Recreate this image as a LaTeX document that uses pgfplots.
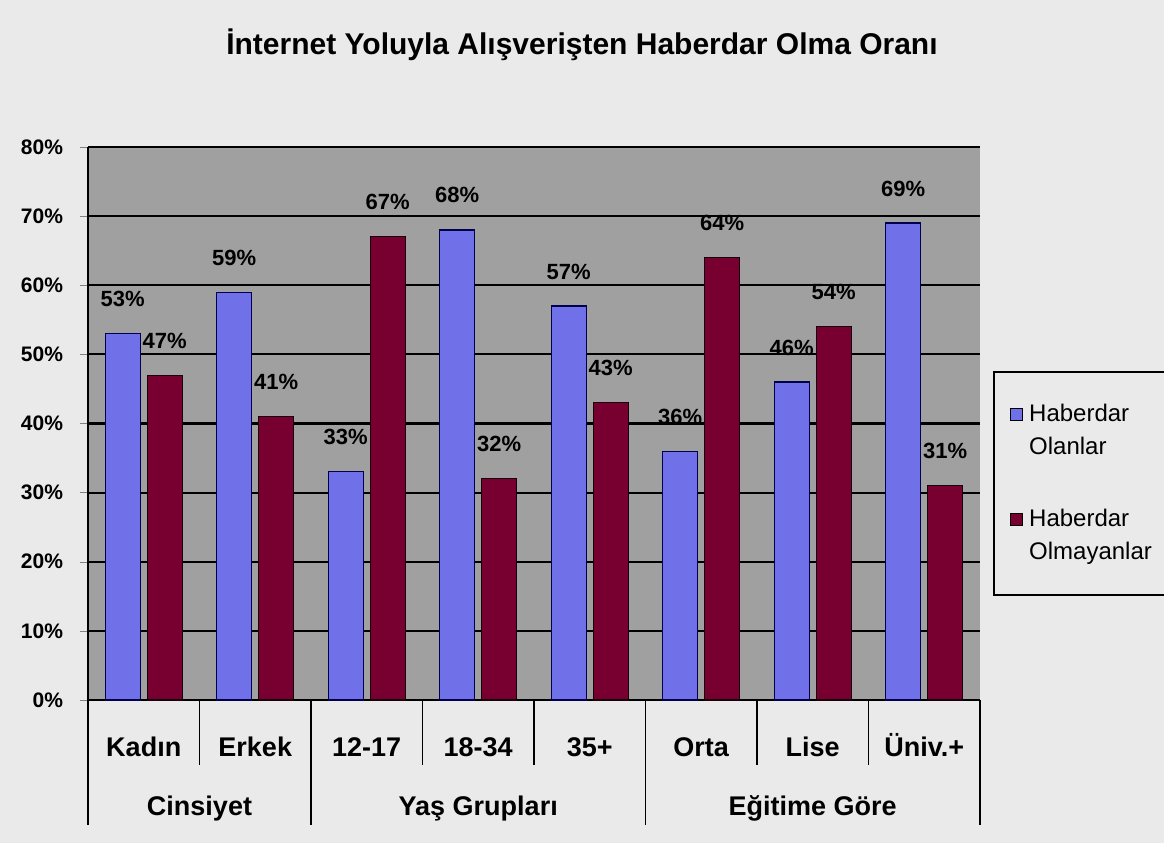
\documentclass[border=0pt]{standalone}
\usepackage{pgfplots}
\pgfplotsset{compat=1.18}
\usepackage{fontspec}
\setmainfont{Liberation Sans}
\definecolor{bg}{HTML}{EAEAEA}
\definecolor{plotgray}{HTML}{A0A0A0}
\definecolor{cblue}{HTML}{7070E8}
\definecolor{cmaroon}{HTML}{780030}
\begin{document}
\begin{tikzpicture}
\fill[bg] (0,0) rectangle (582pt,421.5pt);
\useasboundingbox (0,0) rectangle (582pt,421.5pt);
\node[font=\bfseries\fontsize{15}{18}\selectfont] at (291pt,399pt) {İnternet Yoluyla Alışverişten Haberdar Olma Oranı};
\begin{axis}[
  at={(44pt,71.5pt)}, anchor=south west,
  scale only axis, width=446pt, height=276.5pt,
  ybar=3.5pt, bar width=17.5pt,
  xmin=0.5, xmax=8.5, ymin=0, ymax=80,
  xtick={1,...,8},
  xticklabels={Kadın,Erkek,12-17,18-34,35+,Orta,Lise,Üniv.+},
  xticklabel style={font=\bfseries\fontsize{13.5}{16}\selectfont, anchor=base, yshift=-24pt},
  x tick style={draw=none}, major x tick style={draw=none},
  ytick={0,10,...,80},
  yticklabel={\pgfmathprintnumber{\tick}\%},
  /pgf/number format/assume math mode=true,
  yticklabel style={font=\bfseries\fontsize{10.5}{12}\selectfont, xshift=-5pt},
  tick align=outside, major tick length=4pt,
  ymajorgrids, grid style={black, line width=1.1pt},
  axis line style={black, line width=1pt},
  axis x line*=bottom, axis y line*=left,
  axis background/.style={fill=plotgray},
  clip=false,
  nodes near coords={\pgfmathprintnumber{\pgfplotspointmeta}\%},
  nodes near coords style={font=\bfseries\fontsize{11}{13}\selectfont, anchor=base, yshift=13.5pt, black},
  legend style={at={(1,0.392)}, anchor=west, xshift=6.5pt, draw=black, line width=1pt, fill=bg,
    font=\fontsize{12}{16.5}\selectfont, cells={anchor=base west, align=left}, row sep=22pt,
    inner xsep=8pt, inner ysep=14pt},
  legend image code/.code={\draw[#1, draw=black, line width=0.6pt] (0pt,17pt) rectangle (6pt,23pt);},
]
\addplot[fill=cblue, draw=blue!30!black, line width=0.6pt] coordinates {(1,53) (2,59) (3,33) (4,68) (5,57) (6,36) (7,46) (8,69)};
\addlegendentry{\hspace{1pt}\makebox[54pt][l]{Haberdar}\\\hspace*{1pt}Olanlar}
\addplot[fill=cmaroon, draw=black!80!cmaroon, line width=0.6pt] coordinates {(1,47) (2,41) (3,67) (4,32) (5,43) (6,64) (7,54) (8,31)};
\addlegendentry{\hspace{1pt}\makebox[54pt][l]{Haberdar}\\\hspace*{1pt}Olmayanlar}
\foreach \x in {1.5,3.5,4.5,6.5,7.5} {
  \edef\tmp{\noexpand\draw[black, line width=0.8pt] (axis cs:\x,0) -- ++(0pt,-32.5pt);}\tmp
}
\foreach \x in {0.5,2.5,5.5,8.5} {
  \edef\tmp{\noexpand\draw[black, line width=0.8pt] (axis cs:\x,0) -- ++(0pt,-62.5pt);}\tmp
}
\node[font=\bfseries\fontsize{13.5}{16}\selectfont, anchor=base] at ([yshift=-57.5pt]axis cs:1.5,0) {Cinsiyet};
\node[font=\bfseries\fontsize{13.5}{16}\selectfont, anchor=base] at ([yshift=-57.5pt]axis cs:4,0) {Yaş Grupları};
\node[font=\bfseries\fontsize{13.5}{16}\selectfont, anchor=base] at ([yshift=-57.5pt]axis cs:7,0) {Eğitime Göre};
\end{axis}
\end{tikzpicture}
\end{document}
